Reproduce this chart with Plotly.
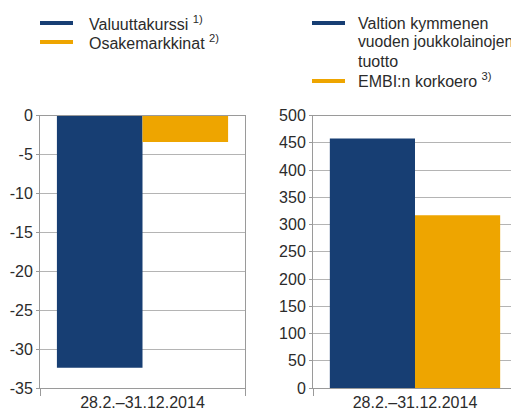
import plotly.graph_objects as go

period = ["28.2.–31.12.2014"]

left_names = ["Valuuttakurssi", "Osakemarkkinat"]
left_sup = ["1)", "2)"]
left_values = [[-32.4], [-3.4]]

right_names = [["Valtion kymmenen", "vuoden joukkolainojen", "tuotto"], ["EMBI:n korkoero"]]
right_sup = ["", "3)"]
right_values = [[458], [317]]

colors = ["#173e73", "#eea500"]
left_ticks = [0, -5, -10, -15, -20, -25, -30, -35]
left_ticktext = ["0", "-5", "-10", "-15", "-20", "-25", "-30", "-35"]
right_ticks = [0, 50, 100, 150, 200, 250, 300, 350, 400, 450, 500]
right_ticktext = [str(v) for v in right_ticks]

# page body has an 8px default margin; figure is sized to fit the 519x413 window
OFF = 8
W, H = 519 - OFF, 413 - OFF
FONT = "Liberation Sans, Arial, sans-serif"
TXT = "#2b2b2b"
GRID = "#b4b4b4"
AXIS = "#9a9a9a"

fig = go.Figure()
for i in range(2):
    fig.add_trace(go.Bar(x=period, y=left_values[i], marker=dict(color=colors[i], line=dict(width=0)),
                         xaxis="x", yaxis="y", showlegend=False))
for i in range(2):
    fig.add_trace(go.Bar(x=period, y=right_values[i], marker=dict(color=colors[i], line=dict(width=0)),
                         xaxis="x2", yaxis="y2", showlegend=False))

def px(x):
    return (x - OFF) / W

def py(y):
    return (H - (y - OFF)) / H

ydom = [py(388), py(115.5)]
xcommon = dict(type="category", showline=True, linecolor=AXIS, linewidth=1, mirror=True,
               ticks="outside", tickson="boundaries", ticklen=7, tickcolor=AXIS,
               showgrid=False, tickfont=dict(size=16, color=TXT, family=FONT), automargin=False,
               fixedrange=True)
ycommon = dict(showline=True, linecolor=AXIS, linewidth=1, mirror=True, showgrid=True,
               gridcolor=GRID, gridwidth=1, zeroline=False, ticks="outside", ticklen=3,
               tickcolor=AXIS, tickfont=dict(size=16, color=TXT, family=FONT), automargin=False,
               fixedrange=True)

fig.update_layout(
    width=W, height=H,
    margin=dict(l=0, r=0, t=0, b=0),
    paper_bgcolor="white", plot_bgcolor="white",
    barmode="group", bargap=0.165, bargroupgap=0,
    font=dict(family=FONT, size=16, color=TXT),
    xaxis=dict(domain=[px(40), px(245)], anchor="y", **xcommon),
    yaxis=dict(domain=ydom, anchor="x", range=[-35, 0], tickvals=left_ticks,
               ticktext=left_ticktext, **ycommon),
    xaxis2=dict(domain=[px(313), px(517)], anchor="y2", **xcommon),
    yaxis2=dict(domain=ydom, anchor="x2", range=[0, 500], tickvals=right_ticks,
                ticktext=right_ticktext, **ycommon),
)

def label(x, y, text, size=16):
    fig.add_annotation(xref="paper", yref="paper", x=px(x), y=py(y), xanchor="left", yanchor="middle",
                       text=text, showarrow=False, align="left", borderpad=0, borderwidth=0,
                       font=dict(size=size, color=TXT, family=FONT))

def key(x0, x1, y, color):
    fig.add_shape(type="line", xref="paper", yref="paper", x0=px(x0), x1=px(x1), y0=py(y), y1=py(y),
                  line=dict(color=color, width=4))

# Left legend
left_rows = [23, 42]
for i in range(2):
    key(40, 73, left_rows[i], colors[i])
    sup = f" <sup>{left_sup[i]}</sup>" if left_sup[i] else ""
    label(89, left_rows[i], left_names[i] + sup)

# Right legend
right_key_rows = [23, 81]
right_text_rows = [[23, 42, 61], [80]]
for i in range(2):
    key(312, 345, right_key_rows[i], colors[i])
    lines = right_names[i]
    for j, line in enumerate(lines):
        txt = line
        if j == len(lines) - 1 and right_sup[i]:
            txt += f" <sup>{right_sup[i]}</sup>"
        size = 15.7 if len(line) > 18 else 16
        label(358, right_text_rows[i][j], txt, size)

fig.write_html("out.html")
